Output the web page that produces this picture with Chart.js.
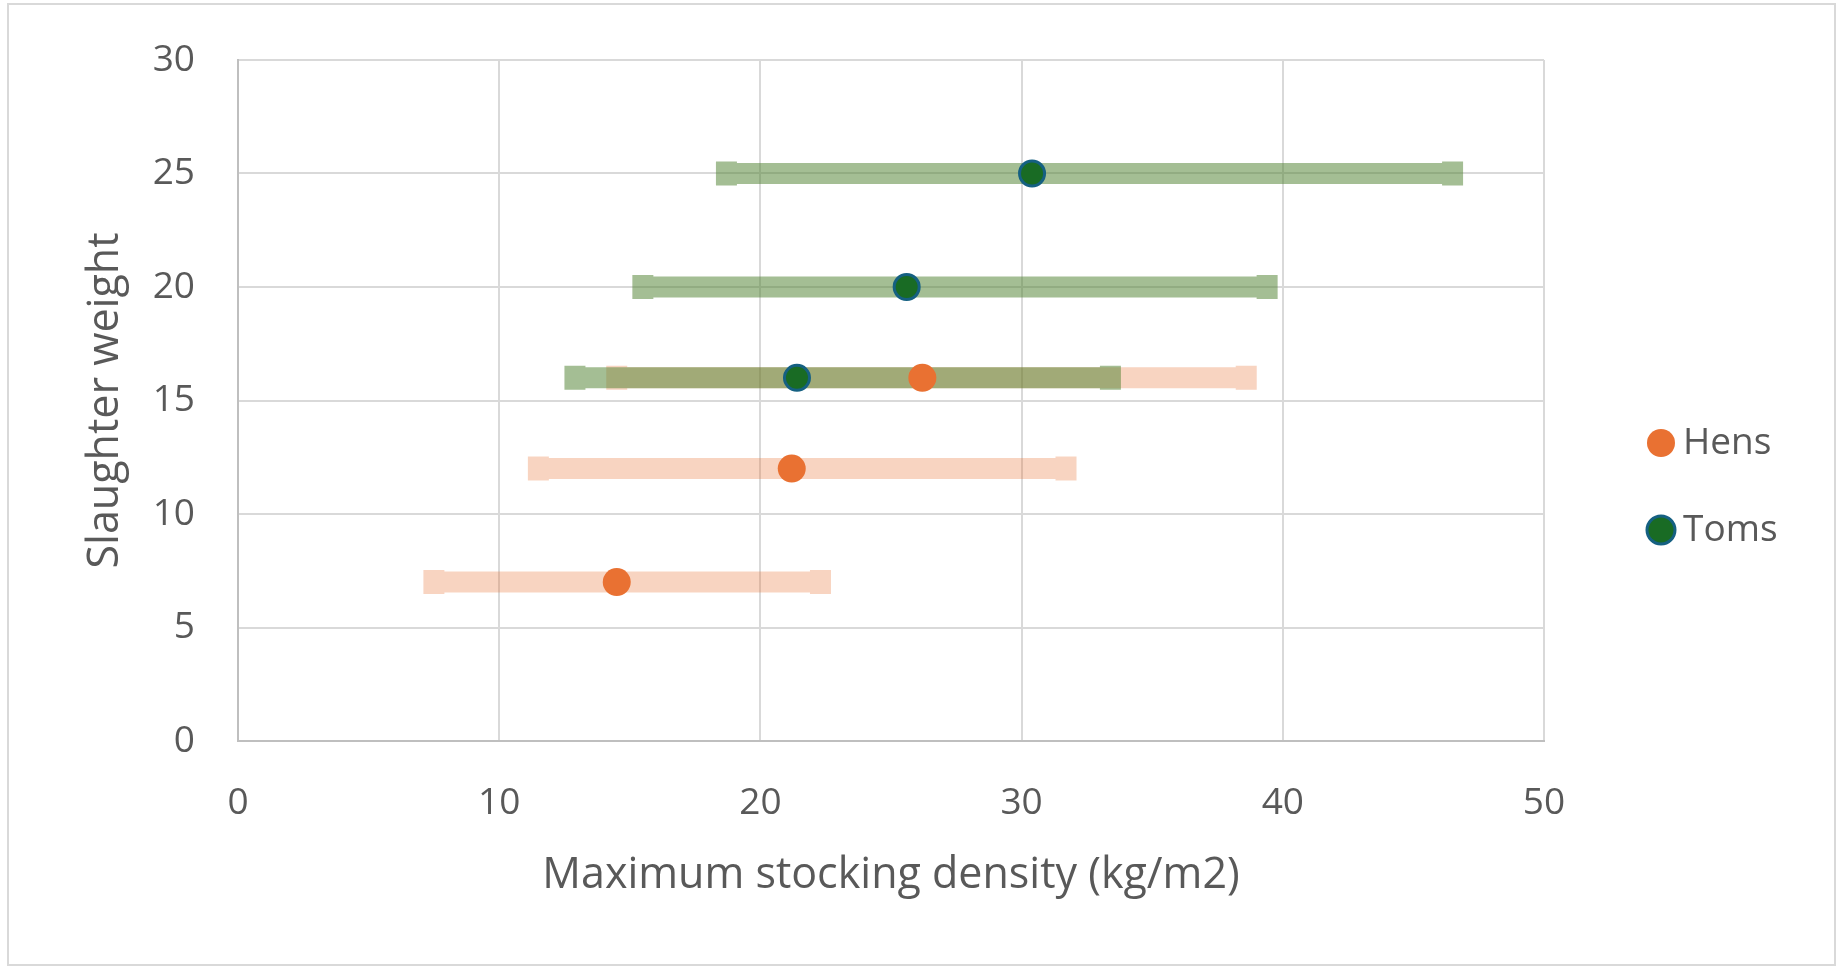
<!DOCTYPE html>
<html>
<head>
<meta charset="utf-8">
<title>Maximum stocking density by slaughter weight</title>
<script src="https://cdn.jsdelivr.net/npm/chart.js@4.4.1/dist/chart.umd.min.js"></script>
<style>
  html, body { margin: 0; padding: 0; background: #fff; overflow: hidden; }
  #wrap { position: relative; width: 1839px; height: 966px; }
  #frame { position: absolute; left: 7px; top: 3px; width: 1829px; height: 963px;
           border: 2px solid #d9d9d9; box-sizing: border-box; pointer-events: none; }
</style>
</head>
<body>
<div id="wrap">
  <canvas id="densityChart"></canvas>
  <div id="frame"></div>
</div>
<script>
// hens: slaughter weight, stocking density and its low/high range
const henWeight = [7, 12, 16];
const henDensity = [14.5, 21.2, 26.2];
const henLow = [7.5, 11.5, 14.5];
const henHigh = [22.3, 31.7, 38.6];

// toms
const tomWeight = [16, 20, 25];
const tomDensity = [21.4, 25.6, 30.4];
const tomLow = [12.9, 15.5, 18.7];
const tomHigh = [33.4, 39.4, 46.5];

const xTicks = [0, 10, 20, 30, 40, 50];
const yTicks = [0, 5, 10, 15, 20, 25, 30];

function toPoints(weights, density, low, high) {
  return weights.map((w, i) => ({ x: density[i], y: w, xMin: low[i], xMax: high[i] }));
}

// thick horizontal error bars with square caps, drawn under the markers
const errorBars = {
  id: 'errorBars',
  beforeDatasetsDraw(chart) {
    const ctx = chart.ctx;
    const xs = chart.scales.x, ys = chart.scales.y;
    const h = 10.5, H = 12, w = 10.5;
    chart.data.datasets.forEach(ds => {
      ctx.save();
      ctx.fillStyle = ds.errorColor;
      ds.data.forEach(p => {
        const y = ys.getPixelForValue(p.y);
        const a = xs.getPixelForValue(p.xMin);
        const b = xs.getPixelForValue(p.xMax);
        ctx.beginPath();
        ctx.moveTo(a - w, y - H);
        ctx.lineTo(a + w, y - H);
        ctx.lineTo(a + w, y - h);
        ctx.lineTo(b - w, y - h);
        ctx.lineTo(b - w, y - H);
        ctx.lineTo(b + w, y - H);
        ctx.lineTo(b + w, y + H);
        ctx.lineTo(b - w, y + H);
        ctx.lineTo(b - w, y + h);
        ctx.lineTo(a + w, y + h);
        ctx.lineTo(a + w, y + H);
        ctx.lineTo(a - w, y + H);
        ctx.closePath();
        ctx.fill();
      });
      ctx.restore();
    });
  }
};

// legend box gets a fixed width so the plot ends where Excel put it
const legendWidth = {
  id: 'legendWidth',
  beforeLayout(chart) {
    const lg = chart.legend;
    if (lg && !lg._fixedWidth) {
      const fit = lg.fit;
      lg.fit = function () { fit.call(this); this.width = 231.5; };
      lg._fixedWidth = true;
    }
  }
};

Chart.defaults.font.family = "'Open Sans', sans-serif";
Chart.defaults.color = '#595959';

const tickFont = { size: 37 };
const titleFont = { size: 43 };

new Chart(document.getElementById('densityChart'), {
  type: 'scatter',
  data: {
    datasets: [
      {
        label: 'Hens',
        data: toPoints(henWeight, henDensity, henLow, henHigh),
        backgroundColor: '#E97132',
        borderColor: '#E97132',
        borderWidth: 0,
        pointRadius: 14,
        errorColor: 'rgba(233,113,50,0.3)'
      },
      {
        label: 'Toms',
        data: toPoints(tomWeight, tomDensity, tomLow, tomHigh),
        backgroundColor: '#196B24',
        borderColor: '#156082',
        borderWidth: 3,
        pointRadius: 12.5,
        errorColor: 'rgba(80,130,50,0.52)'
      }
    ]
  },
  options: {
    responsive: true,
    maintainAspectRatio: false,
    animation: false,
    events: [],
    layout: { padding: { left: 0, top: 7, right: 0, bottom: 0 } },
    plugins: {
      legend: {
        position: 'right',
        align: 'center',
        labels: {
          usePointStyle: true,
          pointStyle: 'circle',
          boxWidth: 7,
          boxHeight: 19.8,
          padding: 50,
          color: '#595959',
          font: tickFont
        }
      },
      tooltip: { enabled: false }
    },
    scales: {
      x: {
        type: 'linear',
        position: 'bottom',
        min: xTicks[0],
        max: xTicks[xTicks.length - 1],
        afterBuildTicks: s => { s.ticks = xTicks.map(v => ({ value: v })); },
        afterFit: s => { s.height = 225; },
        grid: { color: '#d9d9d9', lineWidth: 2, drawTicks: false },
        border: { color: '#bfbfbf', width: 2 },
        ticks: { font: tickFont, color: '#595959', padding: 40, maxRotation: 0, autoSkip: false },
        title: {
          display: true,
          text: 'Maximum stocking density (kg/m2)',
          color: '#595959',
          font: titleFont,
          padding: { top: 0, bottom: 64 }
        }
      },
      y: {
        type: 'linear',
        position: 'left',
        min: yTicks[0],
        max: yTicks[yTicks.length - 1],
        afterBuildTicks: s => { s.ticks = yTicks.map(v => ({ value: v })); },
        afterFit: s => { s.width = 238; },
        // invisible tick marks push the labels away from the axis
        // (tick padding would also pad the top of the plot)
        grid: { color: '#d9d9d9', lineWidth: 2, drawTicks: true, tickLength: 43, tickColor: 'rgba(0,0,0,0)' },
        border: { color: '#bfbfbf', width: 2 },
        ticks: { font: tickFont, color: '#595959', padding: 0, autoSkip: false },
        title: {
          display: true,
          text: 'Slaughter weight',
          color: '#595959',
          font: titleFont,
          padding: { top: 80, bottom: 0 }
        }
      },
      // empty spacer axes: room above the plot and between plot and legend
      xTop: {
        type: 'linear',
        position: 'top',
        grid: { display: false },
        border: { display: false },
        ticks: { display: false },
        afterFit: s => { s.height = 53; }
      },
      yRight: {
        type: 'linear',
        position: 'right',
        grid: { display: false },
        border: { display: false },
        ticks: { display: false },
        afterFit: s => { s.width = 63.5; }
      }
    }
  },
  plugins: [errorBars, legendWidth]
});
</script>
</body>
</html>
